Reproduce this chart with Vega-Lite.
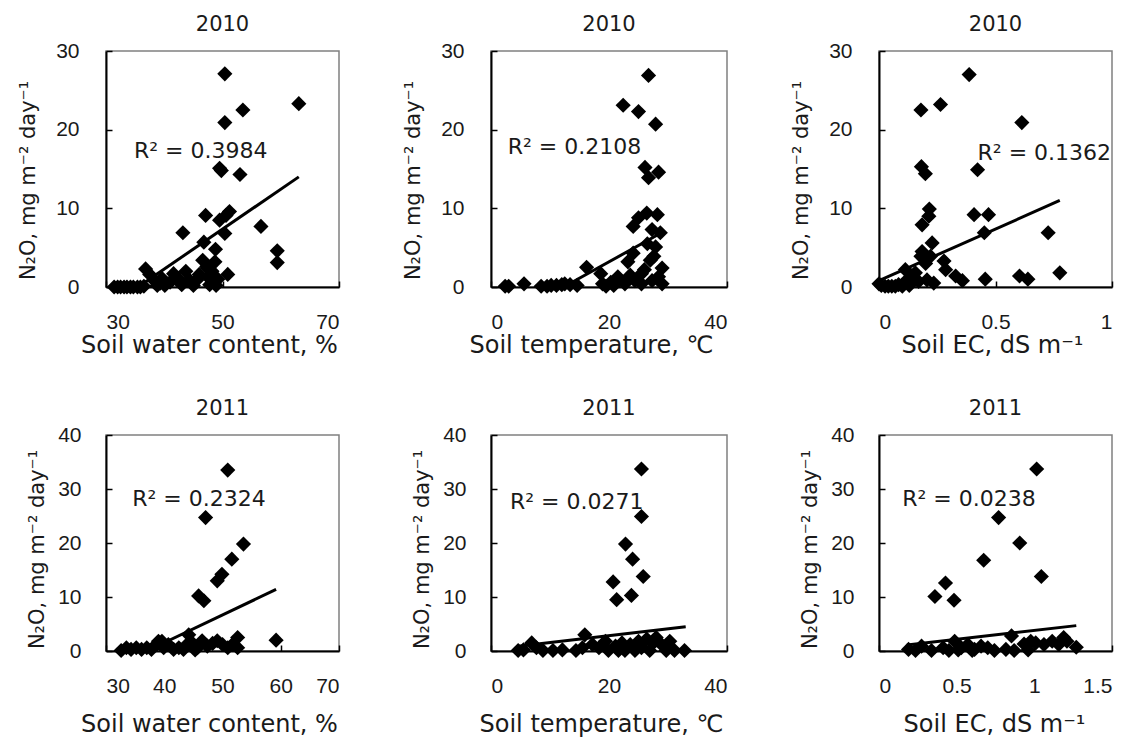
{
  "$schema": "https://vega.github.io/schema/vega-lite/v6.json",
  "background": "white",
  "padding": {"left": 16, "top": 13, "right": 4, "bottom": 0},
  "config": {
    "view": {"stroke": "#808080", "strokeWidth": 1.5},
    "axis": {"domainColor": "#000", "domainWidth": 2, "tickColor": "#000", "tickSize": -6, "tickWidth": 1.5, "grid": false, "labelFont": "Liberation Sans", "labelFontSize": 21, "labelColor": "#1a1a1a", "titleFont": "DejaVu Sans", "titleFontWeight": "normal", "titleColor": "#1a1a1a", "labelPadding": 30, "labelExpr": "'' + datum.value"},
    "axisX": {"titleFontSize": 24},
    "axisY": {"titleFontSize": 21},
    "title": {"font": "DejaVu Sans", "fontSize": 21, "fontWeight": "normal", "color": "#1a1a1a", "offset": 5, "anchor": "middle"},
    "point": {"shape": "diamond", "filled": true, "size": 230, "color": "#000", "opacity": 1, "strokeWidth": 0},
    "line": {"color": "#000", "strokeWidth": 3},
    "text": {"font": "DejaVu Sans", "fontSize": 22, "align": "left", "baseline": "alphabetic", "color": "#1a1a1a"}
  },
  "datasets": {
    "sw2010": [
      {"predictor": 31.4, "n2o": 0}, {"predictor": 32.0, "n2o": 0}, {"predictor": 32.5, "n2o": 0}, {"predictor": 33.1, "n2o": 0}, {"predictor": 33.6, "n2o": 0}, {"predictor": 34.2, "n2o": 0}, {"predictor": 34.7, "n2o": 0}, {"predictor": 35.4, "n2o": 0}, {"predictor": 35.9, "n2o": 0}, {"predictor": 36.5, "n2o": 0.1},
      {"predictor": 36.8, "n2o": 2.3}, {"predictor": 37.5, "n2o": 1.6}, {"predictor": 38.3, "n2o": 0.8}, {"predictor": 38.8, "n2o": 0.2}, {"predictor": 39.3, "n2o": 0.5}, {"predictor": 39.6, "n2o": 1.1}, {"predictor": 40.1, "n2o": 0.2}, {"predictor": 41.0, "n2o": 0.6}, {"predictor": 41.6, "n2o": 1.7}, {"predictor": 42.4, "n2o": 1.1},
      {"predictor": 43.0, "n2o": 0.3}, {"predictor": 43.2, "n2o": 6.9}, {"predictor": 43.7, "n2o": 2.0}, {"predictor": 44.3, "n2o": 0.9}, {"predictor": 45.0, "n2o": 0.2}, {"predictor": 45.6, "n2o": 0.9}, {"predictor": 46.0, "n2o": 1.6}, {"predictor": 46.6, "n2o": 3.4}, {"predictor": 46.8, "n2o": 5.7}, {"predictor": 47.1, "n2o": 9.1},
      {"predictor": 47.3, "n2o": 2.6}, {"predictor": 47.4, "n2o": 2.4}, {"predictor": 47.6, "n2o": 1.2}, {"predictor": 47.8, "n2o": 0.3}, {"predictor": 48.0, "n2o": 1.5}, {"predictor": 48.2, "n2o": 2.0}, {"predictor": 48.7, "n2o": 3.2}, {"predictor": 48.8, "n2o": 4.8}, {"predictor": 48.9, "n2o": 0.2}, {"predictor": 49.2, "n2o": 1.0},
      {"predictor": 49.5, "n2o": 15.1}, {"predictor": 49.5, "n2o": 8.5}, {"predictor": 49.8, "n2o": 14.8}, {"predictor": 50.4, "n2o": 27.1}, {"predictor": 50.4, "n2o": 20.9}, {"predictor": 50.4, "n2o": 6.8}, {"predictor": 50.6, "n2o": 9.1}, {"predictor": 50.9, "n2o": 1.6}, {"predictor": 51.2, "n2o": 9.6}, {"predictor": 53.0, "n2o": 14.3},
      {"predictor": 53.5, "n2o": 22.5}, {"predictor": 56.6, "n2o": 7.7}, {"predictor": 59.4, "n2o": 4.6}, {"predictor": 59.4, "n2o": 3.1}, {"predictor": 63.1, "n2o": 23.3}
    ],
    "sw2010_fit": [{"predictor": 35.5, "n2o": 0}, {"predictor": 63.1, "n2o": 14.0}],
    "sw2010_r2": [{"predictor": 34.8, "n2o": 16.4, "label": "R² = 0.3984"}],
    "st2010": [
      {"predictor": 2.4, "n2o": 0.1}, {"predictor": 3.0, "n2o": 0.1}, {"predictor": 5.6, "n2o": 0.4}, {"predictor": 8.5, "n2o": 0.1}, {"predictor": 9.5, "n2o": 0.1}, {"predictor": 10.2, "n2o": 0.2}, {"predictor": 11.1, "n2o": 0.2}, {"predictor": 12.0, "n2o": 0.3}, {"predictor": 12.5, "n2o": 0.4}, {"predictor": 13.4, "n2o": 0.3},
      {"predictor": 14.6, "n2o": 0.2}, {"predictor": 16.2, "n2o": 2.5}, {"predictor": 18.6, "n2o": 1.7}, {"predictor": 18.9, "n2o": 0.4}, {"predictor": 19.5, "n2o": 0.1}, {"predictor": 20.3, "n2o": 0.6}, {"predictor": 20.8, "n2o": 0.2}, {"predictor": 21.5, "n2o": 1.3}, {"predictor": 22.4, "n2o": 23.1}, {"predictor": 22.7, "n2o": 0.4},
      {"predictor": 23.2, "n2o": 3.2}, {"predictor": 23.6, "n2o": 1.5}, {"predictor": 24.1, "n2o": 7.7}, {"predictor": 24.1, "n2o": 4.3}, {"predictor": 24.4, "n2o": 0.8}, {"predictor": 25.0, "n2o": 22.3}, {"predictor": 25.0, "n2o": 8.8}, {"predictor": 25.5, "n2o": 1.7}, {"predictor": 25.5, "n2o": 0.4}, {"predictor": 26.0, "n2o": 2.2},
      {"predictor": 26.1, "n2o": 15.2}, {"predictor": 26.4, "n2o": 9.4}, {"predictor": 26.5, "n2o": 5.5}, {"predictor": 26.7, "n2o": 26.9}, {"predictor": 26.7, "n2o": 13.9}, {"predictor": 27.0, "n2o": 3.4}, {"predictor": 27.3, "n2o": 7.3}, {"predictor": 27.3, "n2o": 0.8}, {"predictor": 27.6, "n2o": 3.9}, {"predictor": 27.9, "n2o": 20.7},
      {"predictor": 27.9, "n2o": 5.1}, {"predictor": 28.2, "n2o": 9.2}, {"predictor": 28.4, "n2o": 14.6}, {"predictor": 28.4, "n2o": 1.3}, {"predictor": 28.7, "n2o": 6.9}, {"predictor": 29.0, "n2o": 2.4}, {"predictor": 29.0, "n2o": 0.4}
    ],
    "st2010_fit": [{"predictor": 12.3, "n2o": 0}, {"predictor": 28.9, "n2o": 6.9}],
    "st2010_r2": [{"predictor": 2.83, "n2o": 16.9, "label": "R² = 0.2108"}],
    "ec2010": [
      {"predictor": 0.0, "n2o": 0.4}, {"predictor": 0.01, "n2o": 0.2}, {"predictor": 0.026, "n2o": 0.1}, {"predictor": 0.04, "n2o": 0.1}, {"predictor": 0.055, "n2o": 0.1}, {"predictor": 0.07, "n2o": 0.1}, {"predictor": 0.084, "n2o": 0.3}, {"predictor": 0.1, "n2o": 0.1}, {"predictor": 0.113, "n2o": 0.7}, {"predictor": 0.113, "n2o": 2.2},
      {"predictor": 0.13, "n2o": 0.2}, {"predictor": 0.141, "n2o": 1.4}, {"predictor": 0.156, "n2o": 1.8}, {"predictor": 0.17, "n2o": 0.7}, {"predictor": 0.18, "n2o": 3.9}, {"predictor": 0.182, "n2o": 15.3}, {"predictor": 0.18, "n2o": 22.5}, {"predictor": 0.185, "n2o": 7.9}, {"predictor": 0.185, "n2o": 4.5}, {"predictor": 0.199, "n2o": 14.4},
      {"predictor": 0.2, "n2o": 3.0}, {"predictor": 0.206, "n2o": 0.9}, {"predictor": 0.214, "n2o": 9.0}, {"predictor": 0.216, "n2o": 9.9}, {"predictor": 0.221, "n2o": 3.9}, {"predictor": 0.228, "n2o": 5.6}, {"predictor": 0.235, "n2o": 0.5}, {"predictor": 0.264, "n2o": 23.2}, {"predictor": 0.279, "n2o": 3.3}, {"predictor": 0.286, "n2o": 2.2},
      {"predictor": 0.329, "n2o": 1.4}, {"predictor": 0.358, "n2o": 0.8}, {"predictor": 0.387, "n2o": 27.0}, {"predictor": 0.408, "n2o": 9.2}, {"predictor": 0.423, "n2o": 14.9}, {"predictor": 0.452, "n2o": 6.9}, {"predictor": 0.456, "n2o": 1.0}, {"predictor": 0.47, "n2o": 9.2}, {"predictor": 0.603, "n2o": 1.4}, {"predictor": 0.613, "n2o": 20.9},
      {"predictor": 0.639, "n2o": 1.0}, {"predictor": 0.726, "n2o": 6.9}, {"predictor": 0.776, "n2o": 1.8}
    ],
    "ec2010_fit": [{"predictor": 0.0, "n2o": 0.8}, {"predictor": 0.776, "n2o": 11.0}],
    "ec2010_r2": [{"predictor": 0.423, "n2o": 16.2, "label": "R² = 0.1362"}],
    "sw2011": [
      {"predictor": 32.6, "n2o": 0.1}, {"predictor": 33.5, "n2o": 0.6}, {"predictor": 34.3, "n2o": 0.3}, {"predictor": 35.2, "n2o": 0.6}, {"predictor": 36.1, "n2o": 0.3}, {"predictor": 37.0, "n2o": 0.6}, {"predictor": 37.8, "n2o": 0.3}, {"predictor": 38.7, "n2o": 1.2}, {"predictor": 39.0, "n2o": 1.8}, {"predictor": 39.6, "n2o": 1.8},
      {"predictor": 39.9, "n2o": 0.6}, {"predictor": 40.7, "n2o": 1.2}, {"predictor": 41.6, "n2o": 0.3}, {"predictor": 42.5, "n2o": 0.6}, {"predictor": 43.3, "n2o": 0.3}, {"predictor": 43.9, "n2o": 1.2}, {"predictor": 44.2, "n2o": 3.0}, {"predictor": 44.8, "n2o": 1.5}, {"predictor": 45.3, "n2o": 0.2}, {"predictor": 45.7, "n2o": 0.6},
      {"predictor": 45.9, "n2o": 10.2}, {"predictor": 46.5, "n2o": 1.9}, {"predictor": 46.8, "n2o": 9.3}, {"predictor": 47.1, "n2o": 24.7}, {"predictor": 47.4, "n2o": 0.9}, {"predictor": 48.3, "n2o": 1.4}, {"predictor": 49.1, "n2o": 13.0}, {"predictor": 49.1, "n2o": 1.9}, {"predictor": 49.9, "n2o": 14.2}, {"predictor": 50.0, "n2o": 1.2},
      {"predictor": 50.9, "n2o": 33.5}, {"predictor": 50.9, "n2o": 0.6}, {"predictor": 51.6, "n2o": 17.0}, {"predictor": 51.7, "n2o": 1.2}, {"predictor": 52.6, "n2o": 2.5}, {"predictor": 52.6, "n2o": 0.6}, {"predictor": 53.6, "n2o": 19.8}, {"predictor": 59.2, "n2o": 2.0}
    ],
    "sw2011_fit": [{"predictor": 37.0, "n2o": 0}, {"predictor": 59.2, "n2o": 11.4}],
    "sw2011_r2": [{"predictor": 34.5, "n2o": 26.8, "label": "R² = 0.2324"}],
    "st2011": [
      {"predictor": 4.6, "n2o": 0.1}, {"predictor": 5.5, "n2o": 0.2}, {"predictor": 6.9, "n2o": 1.5}, {"predictor": 7.7, "n2o": 0.6}, {"predictor": 8.8, "n2o": 0.1}, {"predictor": 10.5, "n2o": 0.1}, {"predictor": 12.1, "n2o": 0.2}, {"predictor": 14.4, "n2o": 0.1}, {"predictor": 15.5, "n2o": 0.6}, {"predictor": 15.9, "n2o": 3.0},
      {"predictor": 17.2, "n2o": 1.2}, {"predictor": 18.3, "n2o": 0.6}, {"predictor": 19.4, "n2o": 1.8}, {"predictor": 19.9, "n2o": 0.1}, {"predictor": 20.7, "n2o": 12.8}, {"predictor": 21.1, "n2o": 0.9}, {"predictor": 21.3, "n2o": 9.5}, {"predictor": 21.6, "n2o": 0.1}, {"predictor": 22.2, "n2o": 1.5}, {"predictor": 22.7, "n2o": 0.1},
      {"predictor": 22.8, "n2o": 19.8}, {"predictor": 23.6, "n2o": 1.2}, {"predictor": 23.8, "n2o": 10.3}, {"predictor": 24.0, "n2o": 17.0}, {"predictor": 24.4, "n2o": 0.1}, {"predictor": 25.0, "n2o": 1.8}, {"predictor": 25.5, "n2o": 33.7}, {"predictor": 25.5, "n2o": 24.9}, {"predictor": 25.5, "n2o": 0.6}, {"predictor": 25.8, "n2o": 13.8},
      {"predictor": 26.4, "n2o": 2.2}, {"predictor": 26.9, "n2o": 0.1}, {"predictor": 27.5, "n2o": 1.5}, {"predictor": 28.0, "n2o": 2.5}, {"predictor": 28.9, "n2o": 1.2}, {"predictor": 29.7, "n2o": 0.1}, {"predictor": 30.3, "n2o": 1.8}, {"predictor": 31.1, "n2o": 0.1}, {"predictor": 32.8, "n2o": 0.1}
    ],
    "st2011_fit": [{"predictor": 4.6, "n2o": 0.9}, {"predictor": 33.0, "n2o": 4.5}],
    "st2011_r2": [{"predictor": 3.2, "n2o": 26.3, "label": "R² = 0.0271"}],
    "ec2011": [
      {"predictor": 0.19, "n2o": 0.3}, {"predictor": 0.235, "n2o": 0.1}, {"predictor": 0.274, "n2o": 0.9}, {"predictor": 0.338, "n2o": 0.1}, {"predictor": 0.36, "n2o": 10.1}, {"predictor": 0.413, "n2o": 0.6}, {"predictor": 0.428, "n2o": 12.6}, {"predictor": 0.45, "n2o": 0.1}, {"predictor": 0.483, "n2o": 9.4}, {"predictor": 0.487, "n2o": 1.8},
      {"predictor": 0.51, "n2o": 0.2}, {"predictor": 0.53, "n2o": 0.6}, {"predictor": 0.572, "n2o": 1.2}, {"predictor": 0.6, "n2o": 0.1}, {"predictor": 0.615, "n2o": 0.3}, {"predictor": 0.657, "n2o": 0.9}, {"predictor": 0.674, "n2o": 16.8}, {"predictor": 0.7, "n2o": 0.6}, {"predictor": 0.743, "n2o": 0.1}, {"predictor": 0.77, "n2o": 24.7},
      {"predictor": 0.817, "n2o": 0.3}, {"predictor": 0.853, "n2o": 2.8}, {"predictor": 0.87, "n2o": 0.1}, {"predictor": 0.906, "n2o": 20.0}, {"predictor": 0.934, "n2o": 1.3}, {"predictor": 0.96, "n2o": 0.2}, {"predictor": 0.977, "n2o": 1.8}, {"predictor": 1.009, "n2o": 1.5}, {"predictor": 1.015, "n2o": 33.7}, {"predictor": 1.045, "n2o": 13.8},
      {"predictor": 1.062, "n2o": 1.2}, {"predictor": 1.115, "n2o": 1.8}, {"predictor": 1.157, "n2o": 1.2}, {"predictor": 1.189, "n2o": 2.5}, {"predictor": 1.21, "n2o": 1.8}, {"predictor": 1.27, "n2o": 0.7}
    ],
    "ec2011_fit": [{"predictor": 0.18, "n2o": 1.1}, {"predictor": 1.27, "n2o": 4.7}],
    "ec2011_r2": [{"predictor": 0.149, "n2o": 26.8, "label": "R² = 0.0238"}]
  },
  "columns": 3,
  "bounds": "flush",
  "spacing": {"row": 148, "column": 152},
  "concat": [
    {
      "width": 233, "height": 236,
      "title": "2010",
      "encoding": {
        "x": {"field": "predictor", "type": "quantitative", "scale": {"domain": [30, 70], "nice": false, "zero": false}, "axis": {"values": [30, 50, 70], "title": "Soil water content, %", "titleX": 103, "titlePadding": 1}},
        "y": {"field": "n2o", "type": "quantitative", "scale": {"domain": [0, 30], "nice": false}, "axis": {"values": [0, 10, 20, 30], "title": "N₂O, mg m⁻² day⁻¹", "titleY": 129, "labelPadding": 33, "titlePadding": 17}}
      },
      "layer": [
        {"data": {"name": "sw2010"}, "mark": {"type": "point"}},
        {"data": {"name": "sw2010_fit"}, "mark": {"type": "line"}},
        {"data": {"name": "sw2010_r2"}, "mark": {"type": "text"}, "encoding": {"text": {"field": "label"}}}
      ]
    },
    {
      "width": 236, "height": 236,
      "title": "2010",
      "encoding": {
        "x": {"field": "predictor", "type": "quantitative", "scale": {"domain": [0, 40], "nice": false, "zero": false}, "axis": {"values": [0, 20, 40], "title": "Soil temperature, ℃", "titleX": 100, "titlePadding": 1}},
        "y": {"field": "n2o", "type": "quantitative", "scale": {"domain": [0, 30], "nice": false}, "axis": {"values": [0, 10, 20, 30], "title": "N₂O, mg m⁻² day⁻¹", "titleY": 129, "labelPadding": 33, "titlePadding": 17}}
      },
      "layer": [
        {"data": {"name": "st2010"}, "mark": {"type": "point"}},
        {"data": {"name": "st2010_fit"}, "mark": {"type": "line"}},
        {"data": {"name": "st2010_r2"}, "mark": {"type": "text"}, "encoding": {"text": {"field": "label"}}}
      ]
    },
    {
      "width": 233, "height": 236,
      "title": "2010",
      "encoding": {
        "x": {"field": "predictor", "type": "quantitative", "scale": {"domain": [0, 1], "nice": false, "zero": false}, "axis": {"values": [0, 0.5, 1], "title": "Soil EC, dS m⁻¹", "titleX": 113, "titlePadding": 1}},
        "y": {"field": "n2o", "type": "quantitative", "scale": {"domain": [0, 30], "nice": false}, "axis": {"values": [0, 10, 20, 30], "title": "N₂O, mg m⁻² day⁻¹", "titleY": 129, "labelPadding": 33, "titlePadding": 17}}
      },
      "layer": [
        {"data": {"name": "ec2010"}, "mark": {"type": "point"}},
        {"data": {"name": "ec2010_fit"}, "mark": {"type": "line"}},
        {"data": {"name": "ec2010_r2"}, "mark": {"type": "text"}, "encoding": {"text": {"field": "label"}}}
      ]
    },
    {
      "width": 233, "height": 216,
      "title": "2011",
      "encoding": {
        "x": {"field": "predictor", "type": "quantitative", "scale": {"domain": [30, 70], "nice": false, "zero": false}, "axis": {"values": [30, 40, 50, 60, 70], "title": "Soil water content, %", "titleX": 103, "titlePadding": 16}},
        "y": {"field": "n2o", "type": "quantitative", "scale": {"domain": [0, 40], "nice": false}, "axis": {"values": [0, 10, 20, 30, 40], "title": "N₂O, mg m⁻² day⁻¹", "titleY": 114, "labelPadding": 31, "titlePadding": 10}}
      },
      "layer": [
        {"data": {"name": "sw2011"}, "mark": {"type": "point"}},
        {"data": {"name": "sw2011_fit"}, "mark": {"type": "line"}},
        {"data": {"name": "sw2011_r2"}, "mark": {"type": "text"}, "encoding": {"text": {"field": "label"}}}
      ]
    },
    {
      "width": 236, "height": 216,
      "title": "2011",
      "encoding": {
        "x": {"field": "predictor", "type": "quantitative", "scale": {"domain": [0, 40], "nice": false, "zero": false}, "axis": {"values": [0, 20, 40], "title": "Soil temperature, ℃", "titleX": 110, "titlePadding": 16}},
        "y": {"field": "n2o", "type": "quantitative", "scale": {"domain": [0, 40], "nice": false}, "axis": {"values": [0, 10, 20, 30, 40], "title": "N₂O, mg m⁻² day⁻¹", "titleY": 114, "labelPadding": 31, "titlePadding": 10}}
      },
      "layer": [
        {"data": {"name": "st2011"}, "mark": {"type": "point"}},
        {"data": {"name": "st2011_fit"}, "mark": {"type": "line"}},
        {"data": {"name": "st2011_r2"}, "mark": {"type": "text"}, "encoding": {"text": {"field": "label"}}}
      ]
    },
    {
      "width": 233, "height": 216,
      "title": "2011",
      "encoding": {
        "x": {"field": "predictor", "type": "quantitative", "scale": {"domain": [0, 1.5], "nice": false, "zero": false}, "axis": {"values": [0, 0.5, 1, 1.5], "title": "Soil EC, dS m⁻¹", "titleX": 115, "titlePadding": 16}},
        "y": {"field": "n2o", "type": "quantitative", "scale": {"domain": [0, 40], "nice": false}, "axis": {"values": [0, 10, 20, 30, 40], "title": "N₂O, mg m⁻² day⁻¹", "titleY": 114, "labelPadding": 31, "titlePadding": 10}}
      },
      "layer": [
        {"data": {"name": "ec2011"}, "mark": {"type": "point"}},
        {"data": {"name": "ec2011_fit"}, "mark": {"type": "line"}},
        {"data": {"name": "ec2011_r2"}, "mark": {"type": "text"}, "encoding": {"text": {"field": "label"}}}
      ]
    }
  ]
}
